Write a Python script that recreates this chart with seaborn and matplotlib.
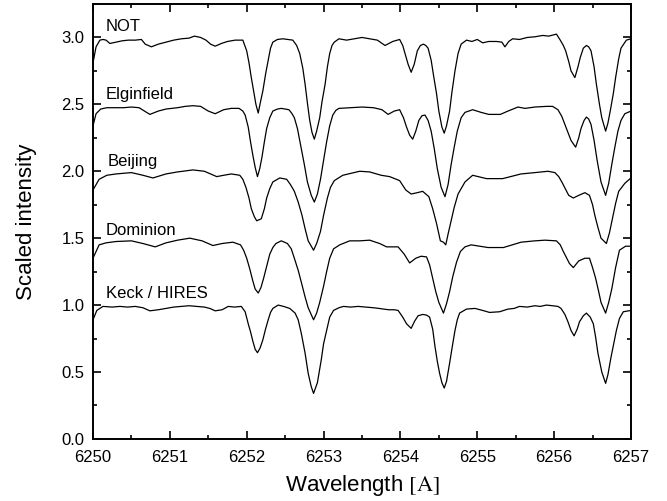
import numpy as np
import pandas as pd
import matplotlib
matplotlib.use("Agg")
import matplotlib.pyplot as plt
import seaborn as sns
from matplotlib.ticker import MultipleLocator, FormatStrFormatter

# Spectrum names, vertical offsets and label positions (wavelength, scaled intensity)
names = ["NOT", "Elginfield", "Beijing", "Dominion", "Keck / HIRES"]
offsets = [3.0, 2.5, 2.0, 1.5, 1.0]
label_wl = [6250.17, 6250.17, 6250.19, 6250.17, 6250.17]
label_y = [3.08, 2.57, 2.075, 1.56, 1.087]

# Normalised profiles as (wavelength [A], intensity - 1) pairs
not_profile = [
    (6250.00, -0.19), (6250.04, -0.07), (6250.09, -0.02), (6250.13, -0.015), (6250.17, -0.02),
    (6250.22, -0.045), (6250.30, -0.035), (6250.38, -0.025), (6250.46, -0.02), (6250.55, -0.02),
    (6250.63, -0.015), (6250.68, -0.05), (6250.76, -0.07), (6250.85, -0.05), (6250.95, -0.035),
    (6251.05, -0.02), (6251.15, -0.01), (6251.25, -0.005), (6251.32, 0.01), (6251.40, 0.0),
    (6251.47, -0.02), (6251.53, -0.05), (6251.59, -0.065), (6251.67, -0.045), (6251.75, -0.03),
    (6251.85, -0.02), (6251.95, -0.02), (6252.00, -0.10), (6252.03, -0.19), (6252.06, -0.30),
    (6252.09, -0.40), (6252.12, -0.50), (6252.15, -0.565), (6252.18, -0.48), (6252.21, -0.40),
    (6252.25, -0.26), (6252.28, -0.17), (6252.31, -0.08), (6252.34, -0.035), (6252.40, -0.015),
    (6252.47, -0.01), (6252.54, -0.015), (6252.60, -0.02), (6252.65, -0.06), (6252.69, -0.12),
    (6252.73, -0.23), (6252.76, -0.35), (6252.79, -0.49), (6252.82, -0.62), (6252.85, -0.71),
    (6252.88, -0.76), (6252.91, -0.70), (6252.95, -0.60), (6252.98, -0.48), (6253.02, -0.35),
    (6253.05, -0.22), (6253.08, -0.12), (6253.11, -0.06), (6253.14, -0.035), (6253.20, -0.01),
    (6253.30, -0.02), (6253.40, -0.01), (6253.50, 0.0), (6253.60, -0.01), (6253.70, -0.02),
    (6253.80, -0.06), (6253.90, -0.03), (6253.99, -0.015), (6254.03, -0.06), (6254.06, -0.12),
    (6254.10, -0.20), (6254.14, -0.26), (6254.18, -0.20), (6254.22, -0.10), (6254.26, -0.06),
    (6254.30, -0.05), (6254.33, -0.06), (6254.36, -0.08), (6254.40, -0.17), (6254.43, -0.28),
    (6254.47, -0.42), (6254.50, -0.55), (6254.54, -0.67), (6254.57, -0.715), (6254.60, -0.66),
    (6254.64, -0.55), (6254.67, -0.41), (6254.71, -0.25), (6254.75, -0.12), (6254.79, -0.05),
    (6254.86, -0.02), (6254.93, -0.03), (6255.00, -0.015), (6255.07, -0.04), (6255.15, -0.03),
    (6255.25, -0.03), (6255.32, -0.035), (6255.36, -0.07), (6255.41, -0.03), (6255.46, -0.01),
    (6255.55, -0.015), (6255.65, 0.0), (6255.75, 0.005), (6255.85, 0.015), (6255.93, 0.01),
    (6256.03, 0.025), (6256.08, -0.02), (6256.12, -0.06), (6256.15, -0.10), (6256.19, -0.18),
    (6256.22, -0.25), (6256.27, -0.30), (6256.31, -0.22), (6256.34, -0.15), (6256.38, -0.08),
    (6256.42, -0.06), (6256.45, -0.07), (6256.48, -0.10), (6256.52, -0.22), (6256.55, -0.35),
    (6256.59, -0.50), (6256.62, -0.60), (6256.67, -0.70), (6256.70, -0.64), (6256.73, -0.55),
    (6256.77, -0.42), (6256.80, -0.30), (6256.84, -0.16), (6256.87, -0.08), (6256.94, -0.02),
    (6257.00, -0.01),
]

elginfield_profile = [
    (6250.00, -0.16), (6250.04, -0.07), (6250.10, -0.035), (6250.18, -0.025), (6250.30, -0.025),
    (6250.40, -0.025), (6250.50, -0.02), (6250.60, -0.025), (6250.67, -0.05), (6250.74, -0.075),
    (6250.85, -0.05), (6250.95, -0.035), (6251.10, -0.025), (6251.20, -0.015), (6251.30, -0.01),
    (6251.40, -0.015), (6251.50, -0.05), (6251.59, -0.07), (6251.70, -0.04), (6251.80, -0.03),
    (6251.90, -0.03), (6251.95, -0.05), (6251.98, -0.08), (6252.02, -0.17), (6252.05, -0.28),
    (6252.08, -0.38), (6252.11, -0.47), (6252.14, -0.54), (6252.17, -0.48), (6252.20, -0.39),
    (6252.23, -0.28), (6252.26, -0.18), (6252.30, -0.10), (6252.34, -0.05), (6252.40, -0.035),
    (6252.45, -0.03), (6252.50, -0.035), (6252.55, -0.04), (6252.59, -0.07), (6252.62, -0.10),
    (6252.66, -0.18), (6252.70, -0.30), (6252.75, -0.45), (6252.79, -0.58), (6252.84, -0.68),
    (6252.88, -0.73), (6252.92, -0.67), (6252.96, -0.56), (6253.00, -0.42), (6253.04, -0.28),
    (6253.08, -0.16), (6253.12, -0.08), (6253.16, -0.045), (6253.20, -0.03), (6253.35, -0.025),
    (6253.50, -0.02), (6253.65, -0.025), (6253.76, -0.04), (6253.84, -0.075), (6253.92, -0.05),
    (6253.99, -0.04), (6254.04, -0.10), (6254.08, -0.17), (6254.12, -0.23), (6254.16, -0.26),
    (6254.20, -0.20), (6254.24, -0.12), (6254.28, -0.085), (6254.32, -0.08), (6254.36, -0.12),
    (6254.40, -0.20), (6254.44, -0.33), (6254.48, -0.48), (6254.53, -0.62), (6254.58, -0.69),
    (6254.62, -0.60), (6254.66, -0.45), (6254.70, -0.32), (6254.74, -0.20), (6254.79, -0.10),
    (6254.84, -0.06), (6254.94, -0.04), (6255.05, -0.06), (6255.15, -0.075), (6255.30, -0.075),
    (6255.40, -0.05), (6255.53, -0.02), (6255.62, -0.03), (6255.75, -0.02), (6255.90, -0.015),
    (6255.98, -0.015), (6256.05, -0.04), (6256.10, -0.09), (6256.14, -0.15), (6256.18, -0.21),
    (6256.22, -0.27), (6256.28, -0.32), (6256.32, -0.25), (6256.35, -0.18), (6256.39, -0.12),
    (6256.42, -0.095), (6256.45, -0.11), (6256.48, -0.15), (6256.52, -0.27), (6256.56, -0.42),
    (6256.61, -0.58), (6256.67, -0.68), (6256.71, -0.59), (6256.75, -0.45), (6256.79, -0.32),
    (6256.83, -0.20), (6256.87, -0.12), (6256.92, -0.07), (6257.00, -0.05),
]

beijing_profile = [
    (6250.00, -0.14), (6250.08, -0.06), (6250.18, -0.03), (6250.30, -0.02), (6250.50, -0.01),
    (6250.65, -0.03), (6250.78, -0.05), (6250.95, -0.02), (6251.10, -0.005), (6251.30, 0.01),
    (6251.45, 0.0), (6251.61, -0.04), (6251.70, -0.03), (6251.80, -0.02), (6251.91, -0.03),
    (6251.95, -0.06), (6251.99, -0.12), (6252.03, -0.20), (6252.06, -0.28), (6252.10, -0.34),
    (6252.13, -0.37), (6252.19, -0.355), (6252.23, -0.28), (6252.26, -0.20), (6252.30, -0.13),
    (6252.34, -0.08), (6252.43, -0.05), (6252.52, -0.06), (6252.57, -0.10), (6252.62, -0.15),
    (6252.67, -0.23), (6252.72, -0.33), (6252.76, -0.43), (6252.80, -0.52), (6252.87, -0.59),
    (6252.91, -0.54), (6252.96, -0.45), (6253.00, -0.33), (6253.05, -0.20), (6253.09, -0.12),
    (6253.14, -0.07), (6253.25, -0.03), (6253.47, 0.0), (6253.60, -0.005), (6253.75, -0.03),
    (6253.86, -0.04), (6253.99, -0.07), (6254.07, -0.14), (6254.14, -0.17), (6254.22, -0.16),
    (6254.29, -0.15), (6254.37, -0.19), (6254.42, -0.28), (6254.47, -0.39), (6254.52, -0.52),
    (6254.56, -0.53), (6254.59, -0.55), (6254.62, -0.47), (6254.66, -0.37), (6254.70, -0.27),
    (6254.75, -0.17), (6254.84, -0.08), (6254.94, -0.03), (6255.12, -0.055), (6255.33, -0.055),
    (6255.57, -0.02), (6255.75, -0.01), (6255.92, 0.0), (6256.01, -0.01), (6256.06, -0.04),
    (6256.10, -0.08), (6256.19, -0.18), (6256.25, -0.20), (6256.32, -0.18), (6256.40, -0.16),
    (6256.46, -0.18), (6256.50, -0.25), (6256.53, -0.33), (6256.57, -0.42), (6256.61, -0.50),
    (6256.68, -0.54), (6256.72, -0.46), (6256.76, -0.35), (6256.80, -0.24), (6256.84, -0.15),
    (6256.92, -0.09), (6257.00, -0.05),
]

dominion_profile = [
    (6250.00, -0.15), (6250.08, -0.05), (6250.17, -0.035), (6250.30, -0.025), (6250.50, -0.02),
    (6250.65, -0.04), (6250.81, -0.065), (6250.95, -0.035), (6251.10, -0.015), (6251.26, 0.0),
    (6251.42, -0.02), (6251.56, -0.055), (6251.68, -0.04), (6251.82, -0.03), (6251.92, -0.05),
    (6251.96, -0.09), (6252.00, -0.15), (6252.04, -0.23), (6252.08, -0.32), (6252.11, -0.38),
    (6252.15, -0.41), (6252.185, -0.37), (6252.22, -0.30), (6252.26, -0.21), (6252.30, -0.12),
    (6252.34, -0.07), (6252.38, -0.04), (6252.45, -0.02), (6252.53, -0.04), (6252.58, -0.08),
    (6252.62, -0.15), (6252.67, -0.24), (6252.72, -0.35), (6252.76, -0.44), (6252.80, -0.52),
    (6252.87, -0.61), (6252.91, -0.56), (6252.95, -0.48), (6253.00, -0.36), (6253.04, -0.25),
    (6253.08, -0.15), (6253.13, -0.08), (6253.21, -0.05), (6253.34, -0.02), (6253.47, -0.02),
    (6253.60, -0.015), (6253.73, -0.04), (6253.82, -0.065), (6253.97, -0.065), (6254.05, -0.12),
    (6254.12, -0.185), (6254.20, -0.15), (6254.27, -0.135), (6254.34, -0.14), (6254.38, -0.20),
    (6254.42, -0.30), (6254.46, -0.40), (6254.50, -0.48), (6254.56, -0.56), (6254.60, -0.49),
    (6254.64, -0.40), (6254.68, -0.29), (6254.73, -0.18), (6254.78, -0.10), (6254.84, -0.065),
    (6254.92, -0.05), (6255.14, -0.07), (6255.34, -0.07), (6255.57, -0.03), (6255.75, -0.02),
    (6255.88, -0.015), (6256.03, -0.02), (6256.08, -0.05), (6256.12, -0.10), (6256.20, -0.19),
    (6256.25, -0.22), (6256.32, -0.17), (6256.40, -0.15), (6256.46, -0.15), (6256.50, -0.22),
    (6256.54, -0.30), (6256.58, -0.40), (6256.61, -0.48), (6256.67, -0.56), (6256.71, -0.48),
    (6256.75, -0.38), (6256.80, -0.22), (6256.85, -0.09), (6256.93, -0.06), (6257.00, -0.06),
]

keck_profile = [
    (6250.00, -0.11), (6250.05, -0.04), (6250.13, -0.01), (6250.25, -0.015), (6250.35, -0.01),
    (6250.45, -0.015), (6250.55, -0.01), (6250.65, -0.02), (6250.74, -0.043), (6250.85, -0.035),
    (6250.95, -0.025), (6251.05, -0.015), (6251.15, -0.01), (6251.25, -0.005), (6251.35, -0.01),
    (6251.45, -0.015), (6251.52, -0.025), (6251.59, -0.043), (6251.68, -0.035), (6251.76, -0.01),
    (6251.84, -0.015), (6251.93, -0.01), (6251.98, -0.05), (6252.02, -0.14), (6252.05, -0.20),
    (6252.08, -0.27), (6252.11, -0.33), (6252.14, -0.356), (6252.175, -0.32), (6252.21, -0.26),
    (6252.245, -0.18), (6252.28, -0.11), (6252.31, -0.055), (6252.34, -0.025), (6252.41, 0.0),
    (6252.48, -0.01), (6252.56, -0.025), (6252.63, -0.06), (6252.67, -0.11), (6252.71, -0.21),
    (6252.76, -0.36), (6252.80, -0.51), (6252.84, -0.61), (6252.87, -0.66), (6252.92, -0.58),
    (6252.97, -0.41), (6253.00, -0.29), (6253.04, -0.19), (6253.08, -0.09), (6253.13, -0.04),
    (6253.20, -0.02), (6253.26, -0.01), (6253.35, -0.015), (6253.45, -0.01), (6253.55, -0.015),
    (6253.65, -0.02), (6253.72, -0.025), (6253.78, -0.03), (6253.85, -0.035), (6253.92, -0.035),
    (6253.97, -0.04), (6254.03, -0.09), (6254.08, -0.14), (6254.14, -0.174), (6254.185, -0.12),
    (6254.23, -0.08), (6254.29, -0.07), (6254.34, -0.075), (6254.38, -0.09), (6254.42, -0.18),
    (6254.45, -0.31), (6254.48, -0.42), (6254.51, -0.51), (6254.54, -0.58), (6254.57, -0.62),
    (6254.60, -0.57), (6254.64, -0.435), (6254.675, -0.31), (6254.71, -0.19), (6254.74, -0.11),
    (6254.77, -0.06), (6254.86, -0.03), (6254.97, -0.025), (6255.07, -0.04), (6255.16, -0.055),
    (6255.29, -0.05), (6255.40, -0.03), (6255.48, -0.025), (6255.55, -0.01), (6255.65, -0.015),
    (6255.75, -0.005), (6255.82, -0.01), (6255.90, 0.0), (6255.98, -0.005), (6256.05, -0.01),
    (6256.09, -0.025), (6256.14, -0.07), (6256.18, -0.125), (6256.22, -0.19), (6256.26, -0.23),
    (6256.30, -0.18), (6256.33, -0.125), (6256.38, -0.08), (6256.42, -0.06), (6256.47, -0.09),
    (6256.51, -0.14), (6256.54, -0.24), (6256.57, -0.36), (6256.62, -0.50), (6256.67, -0.585),
    (6256.70, -0.52), (6256.74, -0.39), (6256.775, -0.29), (6256.81, -0.19), (6256.85, -0.10),
    (6256.90, -0.05), (6257.00, -0.04),
]

profiles = [not_profile, elginfield_profile, beijing_profile, dominion_profile, keck_profile]

frames = []
for name, off, prof in zip(names, offsets, profiles):
    arr = np.asarray(prof)
    frames.append(pd.DataFrame({
        "wavelength": arr[:, 0],
        "intensity": arr[:, 1] + off,
        "spectrum": name,
    }))
df = pd.concat(frames, ignore_index=True)

sns.set_theme(style="ticks")
plt.rcParams["font.family"] = ["Liberation Sans", "DejaVu Sans"]
plt.rcParams["mathtext.fontset"] = "stix"

fig = plt.figure(figsize=(6.67, 5.01), dpi=100)
ax = fig.add_axes([0.1394, 0.124, 0.8066, 0.868])

sns.lineplot(data=df, x="wavelength", y="intensity", hue="spectrum",
             palette=["black"] * len(names), hue_order=names, sort=False,
             estimator=None, legend=False, linewidth=0.9, ax=ax)

for name, x, y in zip(names, label_wl, label_y):
    ax.text(x, y, name, fontsize=12, ha="left", va="center", color="black")

ax.set_xlim(6250, 6257)
ax.set_ylim(0, 3.25)
ax.xaxis.set_major_locator(MultipleLocator(1))
ax.xaxis.set_minor_locator(MultipleLocator(0.5))
ax.yaxis.set_major_locator(MultipleLocator(0.5))
ax.yaxis.set_minor_locator(MultipleLocator(0.25))
ax.xaxis.set_major_formatter(FormatStrFormatter("%d"))
ax.yaxis.set_major_formatter(FormatStrFormatter("%.1f"))

ax.tick_params(which="both", direction="in", top=True, right=True, color="black",
               labelsize=12, labelcolor="black")
ax.tick_params(which="major", length=6, width=1.2)
ax.tick_params(which="minor", length=3, width=1.2)
ax.tick_params(axis="x", which="major", pad=8)
ax.tick_params(axis="y", which="major", pad=6)
for s in ax.spines.values():
    s.set_linewidth(1.4)
    s.set_color("black")

ax.set_xlabel(r"Wavelength $[\mathrm{A}]$", fontsize=16, labelpad=6, color="black")
ax.set_ylabel("Scaled intensity", fontsize=16, labelpad=18, color="black")

fig.savefig("out.png", dpi=100)
